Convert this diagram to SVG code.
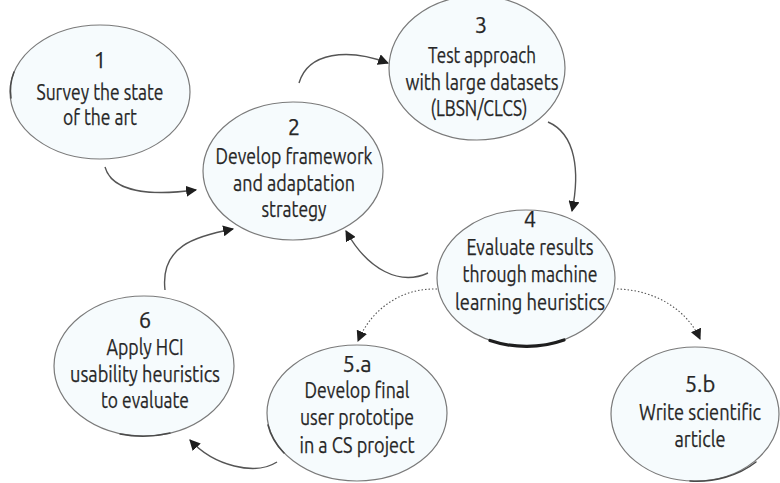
<svg xmlns="http://www.w3.org/2000/svg" width="780" height="483" viewBox="0 0 780 483">
  <style>
    .node ellipse { fill: #f6fbfd; stroke: #7a7a7a; stroke-width: 1.2; }
    .accent { fill: none; stroke: #4a4a4a; stroke-linecap: round; stroke-width: 1.5; }
    .accent.heavy { stroke: #1e1e1e; stroke-width: 3.2; }
    .node text { font-family: "Ubuntu", "Open Sans", "Noto Sans", "DejaVu Sans", sans-serif; font-size: 22px; fill: #262626; stroke: #262626; stroke-width: 0.25; text-anchor: middle; }
    .edge { fill: none; stroke: #555555; stroke-width: 1.4; marker-end: url(#arrow); }
    .dotted { stroke-dasharray: 1.5 2; stroke-width: 1.1; }
  </style>
  <defs>
    <marker id="arrow" viewBox="0 0 10 10" refX="9" refY="5" markerWidth="11" markerHeight="11" markerUnits="userSpaceOnUse" orient="auto">
      <path d="M0,0 L10,5 L0,10 Z" fill="#1e1e1e"/>
    </marker>
  </defs>
  <rect width="780" height="483" fill="#ffffff"/>

  <!-- connectors -->
  <g id="connectors">
    <path class="edge" d="M105,167 C112,192 150,196 196,190"/>
    <path class="edge" d="M299,83 C308,52 348,48 388,63"/>
    <path class="edge" d="M548,122 C576,134 580,172 572,211"/>
    <path class="edge" d="M428,273 C400,286 368,270 346,231"/>
    <path class="edge dotted" d="M437,289 C402,288 372,308 358,341"/>
    <path class="edge dotted" d="M617,289 C658,290 688,312 700,339"/>
    <path class="edge" d="M277,462 C255,476 214,466 190,440"/>
    <path class="edge" d="M165,290 C160,246 196,236 233,229"/>
  </g>

  <!-- 1 -->
  <g id="node1" class="node">
    <ellipse cx="100" cy="92" rx="90" ry="67"/>
    <path class="accent" d="M11,98 A90,67 0 0,1 14,72"/>
    <text x="100" y="68">1</text>
    <text x="100" y="100" textLength="127" lengthAdjust="spacingAndGlyphs">Survey the state</text>
    <text x="100" y="125" textLength="74" lengthAdjust="spacingAndGlyphs">of the art</text>
  </g>

  <!-- 2 -->
  <g id="node2" class="node">
    <ellipse cx="293" cy="171" rx="90" ry="69"/>
    <text x="294" y="135">2</text>
    <text x="294" y="164" textLength="157" lengthAdjust="spacingAndGlyphs">Develop framework</text>
    <text x="294" y="191" textLength="122" lengthAdjust="spacingAndGlyphs">and adaptation</text>
    <text x="294" y="217" textLength="65" lengthAdjust="spacingAndGlyphs">strategy</text>
  </g>

  <!-- 3 -->
  <g id="node3" class="node">
    <ellipse cx="477" cy="68" rx="88" ry="72"/>
    <text x="481" y="33">3</text>
    <text x="482" y="63" textLength="108" lengthAdjust="spacingAndGlyphs">Test approach</text>
    <text x="482" y="90" textLength="153" lengthAdjust="spacingAndGlyphs">with large datasets</text>
    <text x="479" y="116" textLength="97" lengthAdjust="spacingAndGlyphs">(LBSN/CLCS)</text>
  </g>

  <!-- 4 -->
  <g id="node4" class="node">
    <ellipse cx="526" cy="278" rx="89" ry="68"/>
    <path class="accent heavy" d="M490,340.5 A89,68 0 0,0 564,340"/>
    <text x="530" y="227">4</text>
    <text x="530" y="255" textLength="127" lengthAdjust="spacingAndGlyphs">Evaluate results</text>
    <text x="530" y="282" textLength="135" lengthAdjust="spacingAndGlyphs">through machine</text>
    <text x="530" y="310" textLength="150" lengthAdjust="spacingAndGlyphs">learning heuristics</text>
  </g>

  <!-- 6 -->
  <g id="node6" class="node">
    <ellipse cx="144" cy="366" rx="90" ry="70"/>
    <path class="accent" d="M120,434 A90,70 0 0,0 170,433"/>
    <text x="145" y="328">6</text>
    <text x="145" y="355" textLength="77" lengthAdjust="spacingAndGlyphs">Apply HCI</text>
    <text x="145" y="382" textLength="150" lengthAdjust="spacingAndGlyphs">usability heuristics</text>
    <text x="145" y="408" textLength="88" lengthAdjust="spacingAndGlyphs">to evaluate</text>
  </g>

  <!-- 5.a -->
  <g id="node5a" class="node">
    <ellipse cx="357" cy="413" rx="90" ry="68"/>
    <path class="accent" d="M268,425 A90,68 0 0,0 284,453"/>
    <text x="357" y="372">5.a</text>
    <text x="357" y="398" textLength="105" lengthAdjust="spacingAndGlyphs">Develop final</text>
    <text x="357" y="425" textLength="114" lengthAdjust="spacingAndGlyphs">user prototipe</text>
    <text x="357" y="453" textLength="115" lengthAdjust="spacingAndGlyphs">in a CS project</text>
  </g>

  <!-- 5.b -->
  <g id="node5b" class="node">
    <ellipse cx="695" cy="414" rx="84" ry="67"/>
    <path class="accent" d="M690,481 A84,67 0 0,0 756,462"/>
    <text x="700" y="392">5.b</text>
    <text x="700" y="420" textLength="122" lengthAdjust="spacingAndGlyphs">Write scientific</text>
    <text x="700" y="447" textLength="51" lengthAdjust="spacingAndGlyphs">article</text>
  </g>
</svg>
